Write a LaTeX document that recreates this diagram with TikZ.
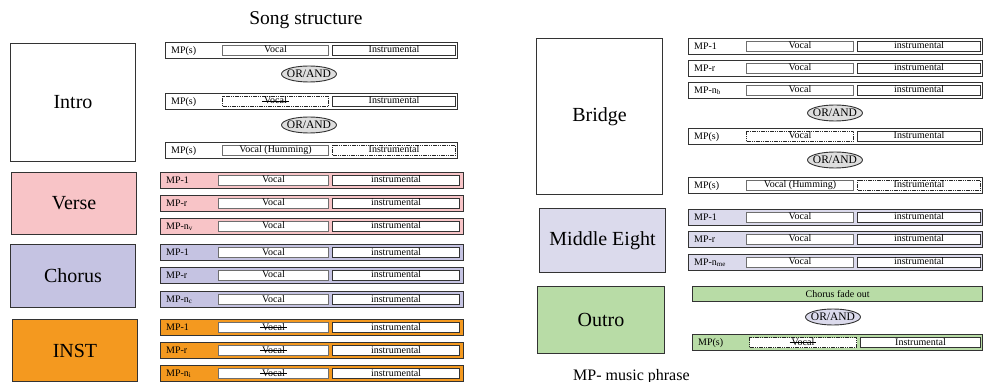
\documentclass[tikz,border=0pt]{standalone}
\usepackage{fontspec}
\setmainfont{Liberation Serif}
\usetikzlibrary{shapes.geometric}

\definecolor{versefill}{HTML}{F8C4C7}
\definecolor{chorusfill}{HTML}{C5C3E2}
\definecolor{instfill}{HTML}{F4991F}
\definecolor{eightfill}{HTML}{DBDAEC}
\definecolor{outrofill}{HTML}{B8DCA6}
\definecolor{ovalfill}{HTML}{DEDEDE}
\definecolor{edge}{HTML}{333333}
\definecolor{softedge}{HTML}{6E6E6E}

% line drawn through a word that is left out
\newsavebox\strikebox
\newcommand\struck[1]{\sbox\strikebox{#1}\rlap{\kern-2pt\rule[0.22em]{\dimexpr\wd\strikebox+4pt\relax}{1.2pt}}\usebox\strikebox}

\tikzset{
  section/.style={draw=edge, line width=1pt, inner sep=0pt, anchor=north west,
    font=\fontsize{20}{24}\selectfont},
  mpbar/.style={draw=edge, line width=1.2pt, inner sep=0pt, minimum height=16pt,
    anchor=north west},
  mplabel/.style={inner sep=0pt, font=\fontsize{10}{12}\selectfont},
  cell/.style={fill=white, line width=1pt, inner sep=0pt, minimum height=10pt,
    text height=7pt, text depth=2pt, anchor=north west,
    font=\fontsize{10}{12}\selectfont},
  vsolid/.style={draw=softedge},
  isolid/.style={draw=edge},
  dotbox/.style={draw=black!85, dash pattern=on 1.2pt off 0.6pt},
  orand/.style={ellipse, draw=edge, line width=0.9pt, fill=ovalfill, inner sep=0pt,
    minimum width=55pt, minimum height=16pt},
  ortext/.style={inner sep=0pt, font=\fontsize{11.5}{13}\selectfont},
}

% one music-phrase row: name, top y, fill, label, vocal style, vocal text, instr style, instr text
\newcommand\mprow[8]{%
  \node[mpbar, fill=#3, minimum width={(\rowR-\rowL)*1pt}] (#1) at (\rowL,#2) {};
  \node[mplabel, anchor=west] (#1-l) at ([xshift=6pt]#1.west) {#4};
  \node[cell, #5, minimum width={(\vocR-\vocL)*1pt}] (#1-v) at (\vocL,#2+3) {#6};
  \node[cell, #7, minimum width={(\insR-\insL)*1pt}] (#1-i) at (\insL,#2+3) {#8};
}
\newcommand\setcols[6]{\def\rowL{#1}\def\rowR{#2}\def\vocL{#3}\def\vocR{#4}\def\insL{#5}\def\insR{#6}}

\begin{document}
\begin{tikzpicture}[x=1pt, y=-1pt]
\useasboundingbox (0,0) rectangle (983,382);

% title
\node[inner sep=0pt, anchor=base, font=\fontsize{19.5}{23}\selectfont] (title) at (306,25) {Song structure};

% section blocks
\node[section, minimum width=125pt, minimum height=118pt] (intro) at (10,43) {Intro};
\node[section, fill=versefill, minimum width=125pt, minimum height=62pt] (verse) at (11,172) {Verse};
\node[section, fill=chorusfill, minimum width=125pt, minimum height=63pt] (chorus) at (10,244) {Chorus};
\node[section, fill=instfill, minimum width=125pt, minimum height=62pt] (inst) at (12,319) {INST};
\node[section, minimum width=126pt, minimum height=156pt] (bridge) at (536,38) {Bridge};
\node[section, fill=eightfill, minimum width=126pt, minimum height=64pt] (eight) at (539,208) {Middle Eight};
\node[section, fill=outrofill, minimum width=127pt, minimum height=67pt] (outro) at (537,286) {Outro};

% intro phrases
\setcols{165}{457}{222}{328}{332}{455}
\mprow{i1}{42}{white}{MP(s)}{vsolid}{Vocal}{isolid}{Instrumental}
\node[orand] (or1) at (309,74) {};
\node[ortext] (or1-t) at (or1) {OR/AND};
\mprow{i2}{93}{white}{MP(s)}{dotbox}{\struck{Vocal}}{isolid}{Instrumental}
\node[orand] (or2) at (309,125) {};
\node[ortext] (or2-t) at (or2) {OR/AND};
\mprow{i3}{142}{white}{MP(s)}{vsolid}{Vocal (Humming)}{dotbox}{Instrumental}

% verse, chorus and instrumental phrases
\setcols{160}{463}{218}{328}{332}{459}
\mprow{v1}{172}{versefill}{MP-1}{vsolid}{Vocal}{isolid}{instrumental}
\mprow{v2}{195}{versefill}{MP-r}{vsolid}{Vocal}{isolid}{instrumental}
\mprow{v3}{218}{versefill}{MP-n\textsubscript{v}}{vsolid}{Vocal}{isolid}{instrumental}
\mprow{c1}{244}{chorusfill}{MP-1}{vsolid}{Vocal}{isolid}{instrumental}
\mprow{c2}{267}{chorusfill}{MP-r}{vsolid}{Vocal}{isolid}{instrumental}
\mprow{c3}{291}{chorusfill}{MP-n\textsubscript{c}}{vsolid}{Vocal}{isolid}{instrumental}
\mprow{n1}{319}{instfill}{MP-1}{vsolid}{\struck{Vocal}}{isolid}{instrumental}
\mprow{n2}{342}{instfill}{MP-r}{vsolid}{\struck{Vocal}}{isolid}{instrumental}
\mprow{n3}{365}{instfill}{MP-n\textsubscript{i}}{vsolid}{\struck{Vocal}}{isolid}{instrumental}

% bridge and middle eight phrases
\setcols{688}{982}{746}{853}{857}{980}
\mprow{b1}{38}{white}{MP-1}{vsolid}{Vocal}{isolid}{instrumental}
\mprow{b2}{60}{white}{MP-r}{vsolid}{Vocal}{isolid}{instrumental}
\mprow{b3}{82}{white}{MP-n\textsubscript{b}}{vsolid}{Vocal}{isolid}{instrumental}
\node[orand] (or3) at (835,113) {};
\node[ortext] (or3-t) at (or3) {OR/AND};
\mprow{b4}{128}{white}{MP(s)}{dotbox}{Vocal}{isolid}{Instrumental}
\node[orand] (or4) at (835,160) {};
\node[ortext] (or4-t) at (or4) {OR/AND};
\mprow{b5}{177}{white}{MP(s)}{vsolid}{Vocal (Humming)}{dotbox}{Instrumental}
\mprow{m1}{209}{eightfill}{MP-1}{vsolid}{Vocal}{isolid}{instrumental}
\mprow{m2}{231}{eightfill}{MP-r}{vsolid}{Vocal}{isolid}{instrumental}
\mprow{m3}{254}{eightfill}{MP-n\textsubscript{me}}{vsolid}{Vocal}{isolid}{instrumental}

% outro phrases
\node[mpbar, fill=outrofill, minimum width=290pt, minimum height=15pt, font=\fontsize{10}{12}\selectfont] (fade) at (692,286) {Chorus fade out};
\node[orand, fill=eightfill] (or5) at (833,317) {};
\node[ortext] (or5-t) at (or5) {OR/AND};
\setcols{692}{982}{749}{856}{860}{980}
\mprow{o1}{334}{outrofill}{MP(s)}{dotbox}{\struck{Vocal}}{isolid}{Instrumental}

% legend
\node[inner sep=0pt, anchor=base west, font=\fontsize{16}{19}\selectfont] (legend) at (573,380) {MP- music phrase};
\end{tikzpicture}
\end{document}
